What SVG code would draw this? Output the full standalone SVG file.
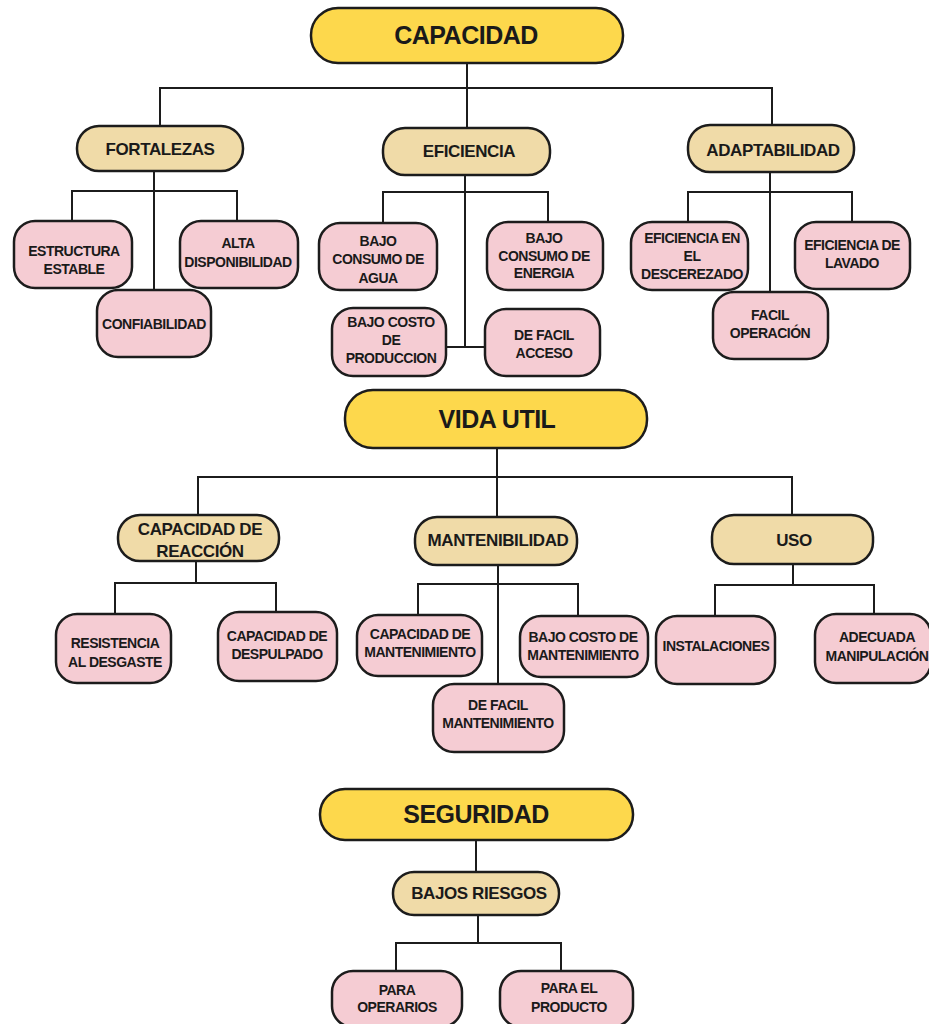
<svg xmlns="http://www.w3.org/2000/svg" width="929" height="1024" viewBox="0 0 929 1024">
<style>
  .t1 rect{fill:#FDD84C;stroke:#1c1c1c;stroke-width:2.5}
  .t2 rect{fill:#F0DBA8;stroke:#1c1c1c;stroke-width:2.5}
  .t3 rect{fill:#F5CCD3;stroke:#1c1c1c;stroke-width:2.5}
  text{font-family:"Liberation Sans",Arial,sans-serif;font-weight:bold;fill:#1a1a1a;text-anchor:middle}
  .t1 text{font-size:25px;letter-spacing:-0.5px}
  .t2 text{font-size:17px;letter-spacing:-0.4px}
  .t3 text{font-size:14px;letter-spacing:-0.5px}
  #connectors path{fill:none;stroke:#1c1c1c;stroke-width:2}
</style>
<rect width="929" height="1024" fill="#ffffff"/>
<g id="connectors">
  <path d="M467 63V128M160 126V88H772V125"/>
  <path d="M154 171V290M72 221V191H237V221"/>
  <path d="M465 175V347M446 347H485M383 223V192H548V222"/>
  <path d="M770 172V292M688 222V192H852V222"/>
  <path d="M497 448V517M198 515V477H792V515"/>
  <path d="M196 561V583M115 614V583H276V612"/>
  <path d="M498 565V684M418 615V584H578V616"/>
  <path d="M793 564V585M715 616V585H874V614"/>
  <path d="M476 840V872M478 915V943M396 971V943H561V971"/>
</g>
<g id="capacidad" class="t1"><rect x="311" y="8" width="312" height="55" rx="27"/><text x="466" y="44">CAPACIDAD</text></g>
<g id="fortalezas" class="t2"><rect x="77" y="126" width="166" height="45" rx="22"/><text x="160" y="155">FORTALEZAS</text></g>
<g id="eficiencia" class="t2"><rect x="383" y="128" width="167" height="47" rx="22"/><text x="469" y="157">EFICIENCIA</text></g>
<g id="adaptabilidad" class="t2"><rect x="688" y="125" width="166" height="47" rx="22"/><text x="773" y="156">ADAPTABILIDAD</text></g>
<g id="estructura" class="t3"><rect x="14" y="221" width="118" height="67" rx="21"/><text x="74" y="256">ESTRUCTURA</text><text x="74" y="274">ESTABLE</text></g>
<g id="alta" class="t3"><rect x="180" y="221" width="118" height="67" rx="21"/><text x="238" y="248">ALTA</text><text x="238" y="267">DISPONIBILIDAD</text></g>
<g id="confiabilidad" class="t3"><rect x="97" y="290" width="114" height="67" rx="21"/><text x="154" y="329">CONFIABILIDAD</text></g>
<g id="agua" class="t3"><rect x="319" y="223" width="118" height="67" rx="21"/><text x="378" y="246">BAJO</text><text x="378" y="264">CONSUMO DE</text><text x="378" y="283">AGUA</text></g>
<g id="energia" class="t3"><rect x="487" y="222" width="116" height="68" rx="21"/><text x="544" y="243">BAJO</text><text x="544" y="261">CONSUMO DE</text><text x="544" y="278">ENERGIA</text></g>
<g id="produccion" class="t3"><rect x="332" y="308" width="114" height="68" rx="21"/><text x="391" y="327">BAJO COSTO</text><text x="391" y="345">DE</text><text x="391" y="363">PRODUCCION</text></g>
<g id="acceso" class="t3"><rect x="485" y="309" width="115" height="67" rx="21"/><text x="544" y="340">DE FACIL</text><text x="544" y="358">ACCESO</text></g>
<g id="descerezado" class="t3"><rect x="631" y="222" width="117" height="68" rx="21"/><text x="692" y="243">EFICIENCIA EN</text><text x="692" y="261">EL</text><text x="692" y="279">DESCEREZADO</text></g>
<g id="lavado" class="t3"><rect x="795" y="222" width="115" height="67" rx="21"/><text x="852" y="250">EFICIENCIA DE</text><text x="852" y="268">LAVADO</text></g>
<g id="operacion" class="t3"><rect x="713" y="292" width="115" height="67" rx="21"/><text x="770" y="320">FACIL</text><text x="770" y="338">OPERACIÓN</text></g>
<g id="vidautil" class="t1"><rect x="345" y="390" width="302" height="58" rx="28"/><text x="497" y="428">VIDA UTIL</text></g>
<g id="reaccion" class="t2"><rect x="118" y="515" width="161" height="46" rx="22"/><text x="200" y="535">CAPACIDAD DE</text><text x="200" y="557">REACCIÓN</text></g>
<g id="mantenibilidad" class="t2"><rect x="415" y="517" width="162" height="48" rx="22"/><text x="498" y="546">MANTENIBILIDAD</text></g>
<g id="uso" class="t2"><rect x="712" y="515" width="161" height="49" rx="22"/><text x="794" y="546">USO</text></g>
<g id="desgaste" class="t3"><rect x="56" y="614" width="115" height="69" rx="21"/><text x="115" y="648">RESISTENCIA</text><text x="115" y="667">AL DESGASTE</text></g>
<g id="despulpado" class="t3"><rect x="218" y="612" width="119" height="69" rx="21"/><text x="277" y="641">CAPACIDAD DE</text><text x="277" y="659">DESPULPADO</text></g>
<g id="capmant" class="t3"><rect x="357" y="615" width="125" height="61" rx="21"/><text x="420" y="639">CAPACIDAD DE</text><text x="420" y="657">MANTENIMIENTO</text></g>
<g id="costomant" class="t3"><rect x="520" y="616" width="128" height="61" rx="21"/><text x="583" y="642">BAJO COSTO DE</text><text x="583" y="660">MANTENIMIENTO</text></g>
<g id="facilmant" class="t3"><rect x="433" y="684" width="131" height="68" rx="21"/><text x="498" y="710">DE FACIL</text><text x="498" y="728">MANTENIMIENTO</text></g>
<g id="instalaciones" class="t3"><rect x="656" y="616" width="119" height="68" rx="21"/><text x="716" y="651">INSTALACIONES</text></g>
<g id="manipulacion" class="t3"><rect x="815" y="614" width="116" height="69" rx="21"/><text x="877" y="642">ADECUADA</text><text x="877" y="661">MANIPULACIÓN</text></g>
<g id="seguridad" class="t1"><rect x="320" y="789" width="313" height="51" rx="25"/><text x="476" y="823">SEGURIDAD</text></g>
<g id="riesgos" class="t2"><rect x="393" y="872" width="166" height="43" rx="21"/><text x="479" y="899">BAJOS RIESGOS</text></g>
<g id="operarios" class="t3"><rect x="332" y="971" width="130" height="56" rx="21"/><text x="397" y="995">PARA</text><text x="397" y="1012">OPERARIOS</text></g>
<g id="producto" class="t3"><rect x="500" y="971" width="133" height="56" rx="21"/><text x="569" y="993">PARA EL</text><text x="569" y="1012">PRODUCTO</text></g>
</svg>
